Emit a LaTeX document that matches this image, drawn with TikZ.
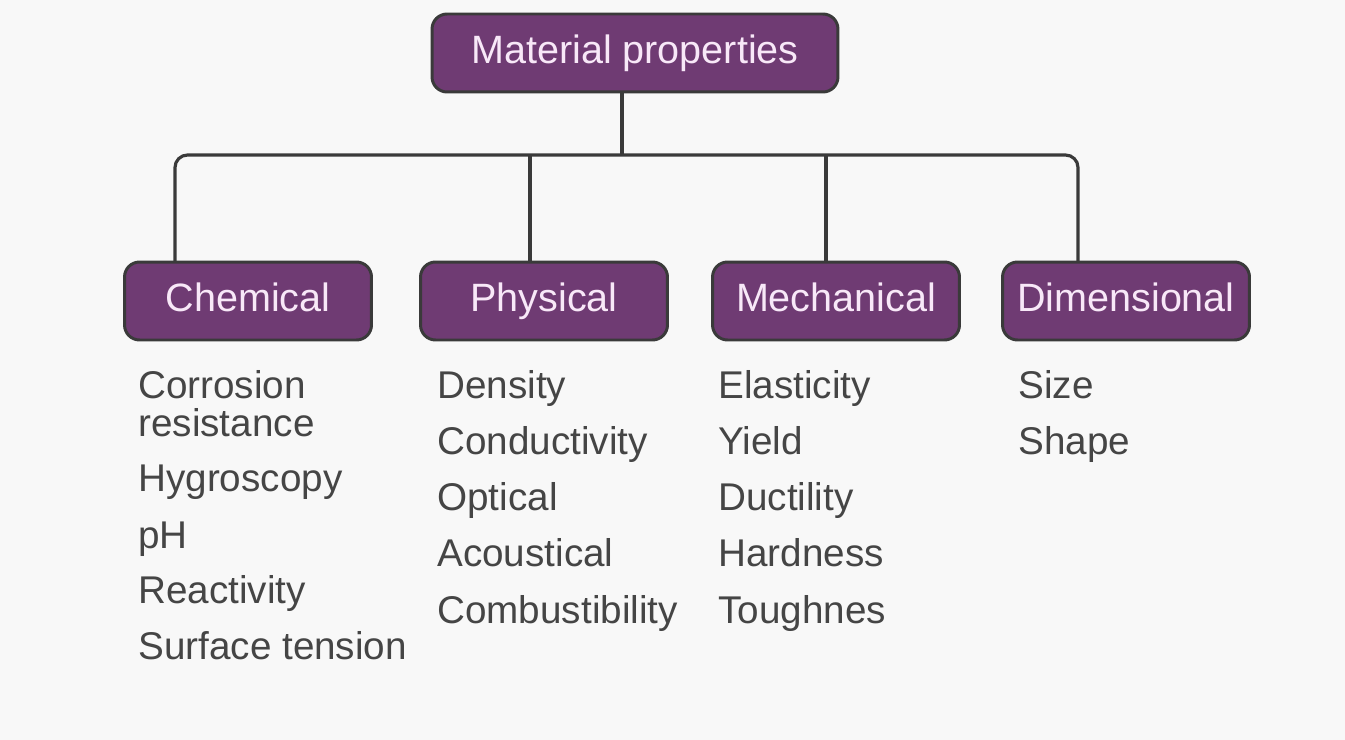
\documentclass[tikz,border=0pt]{standalone}
\usepackage{fontspec}
\setmainfont{Liberation Sans}
\usetikzlibrary{positioning}

\definecolor{boxfill}{HTML}{6F3B73}
\definecolor{boxline}{HTML}{3A3A3A}
\definecolor{boxtext}{HTML}{F8E8F8}
\definecolor{itemtext}{HTML}{454545}
\definecolor{paper}{HTML}{F8F8F8}

\begin{document}
\begin{tikzpicture}[
	x=0.02cm, y=-0.02cm,
	category/.style={
		rectangle, rounded corners=0.3cm, draw=boxline, line width=1.7pt,
		fill=boxfill, text=boxtext, minimum width=4.94cm, minimum height=1.56cm,
		font=\fontsize{22.5}{26}\selectfont, inner sep=0pt,
		text height=16pt, text depth=4.5pt
	},
	root/.style={category, minimum width=8.12cm},
	item/.style={anchor=base west, text=itemtext, inner sep=0pt,
		font=\fontsize{22}{21.5}\selectfont, align=left},
	link/.style={draw=boxline, line width=1.8pt, rounded corners=0.25cm}
]

\fill[paper] (0,0) rectangle (1345,740);
\useasboundingbox (0,0) rectangle (1345,740);

% boxes
\node[root] (props) at (635,53) {Material properties};
\node[category] (chem) at (248,301) {Chemical};
\node[category] (phys) at (544,301) {Physical};
\node[category] (mech) at (836,301) {Mechanical};
\node[category] (dim) at (1126,301) {Dimensional};

% connectors
\coordinate (bus) at (622,155);
\coordinate (dchem) at (175,262);
\coordinate (dphys) at (530,262);
\coordinate (dmech) at (826,262);
\coordinate (ddim) at (1078,262);

\draw[link] (props.south -| bus) -- (bus);
\draw[link] (dchem) |- (bus) -| (ddim);
\draw[link] (dphys) -- (dphys |- bus);
\draw[link] (dmech) -- (dmech |- bus);

% lists
\node[item] (chem1) at (138,436) {Corrosion\\resistance};
\node[item] (chem2) at (138,491) {Hygroscopy};
\node[item] (chem3) at (138,548) {pH};
\node[item] (chem4) at (138,603) {Reactivity};
\node[item] (chem5) at (138,659) {Surface tension};

\foreach \t [count=\i] in {Density,Conductivity,Optical,Acoustical,Combustibility}
	\node[item] (phys\i) at (437,{398+(\i-1)*56.3}) {\t};

\foreach \t [count=\i] in {Elasticity,Yield,Ductility,Hardness,Toughnes}
	\node[item] (mech\i) at (718,{398+(\i-1)*56.3}) {\t};

\node[item] (dim1) at (1018,398) {Size};
\node[item] (dim2) at (1018,454) {Shape};

\end{tikzpicture}
\end{document}
